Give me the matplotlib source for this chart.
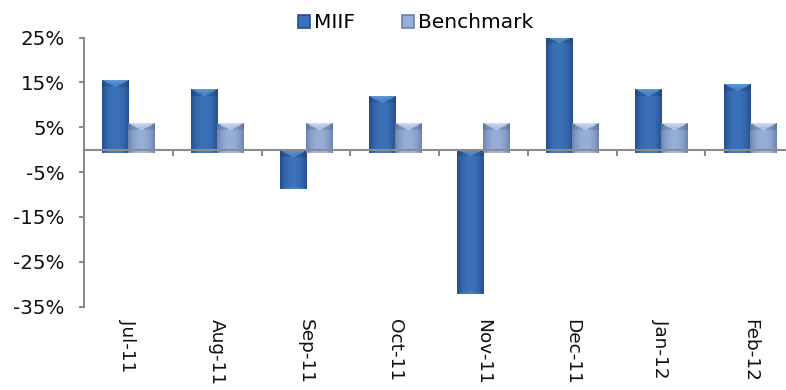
import numpy as np
import matplotlib
matplotlib.use('Agg')
import matplotlib.pyplot as plt
import matplotlib.colors as mcolors
from matplotlib.patches import Rectangle

# Dados mensais (%)
meses = ['Jul-11', 'Aug-11', 'Sep-11', 'Oct-11', 'Nov-11', 'Dec-11', 'Jan-12', 'Feb-12']
miif = [15.5, 13.5, -8.7, 12.0, -32.3, 25.2, 13.5, 14.7]
benchmark = [5.9, 5.9, 5.9, 5.9, 5.9, 5.9, 5.9, 5.9]

plt.rcParams['font.family'] = ['DejaVu Sans']

W, H = 786, 390
fig = plt.figure(figsize=(W / 100, H / 100), dpi=100)
ax = fig.add_axes([84 / W, 83.5 / H, 710.2 / W, 268.8 / H])
ax.set_xlim(-0.5, 7.5)
ax.set_ylim(-35, 25)

px_x = 710.2 / 8      # pixels por categoria
px_y = 268.8 / 60     # pixels por ponto percentual
largura = 0.293
prof = 0.7            # "profundidade" 3D abaixo da linha do zero


def cor(h):
    return np.array(mcolors.to_rgb(h))


def sombreado(h, w, centro, borda, claro):
    # gradiente horizontal (bordas escuras) + chanfro claro no topo
    u = (np.arange(w) + 0.5) / w
    s = np.abs(2 * u - 1)
    t = s ** 2.2
    linha = centro[None, :] * (1 - t)[:, None] + borda[None, :] * t[:, None]
    img = np.repeat(linha[None, :, :], h, axis=0)
    y = np.arange(h)[:, None] + 0.5
    b = 7.5
    tri = y < b * (1 - s)[None, :]
    lado = (y < b) & ~tri
    img[lado] = img[lado] * 0.88
    mix = np.clip(1 - y / b, 0.45, 1.0) * np.ones_like(tri, dtype=float)
    img[tri] = img[tri] * (1 - mix[tri, None] * 0.75) + claro * (mix[tri, None] * 0.75)
    fundo = (h - y) < 0.5 * b * (1 - s)[None, :]
    img[fundo] = img[fundo] * 0.8 + claro * 0.2
    return np.clip(img, 0, 1)


x = np.arange(len(meses))
series = [
    (miif, x - largura / 2, 'MIIF', '#3b71b8', '#244d8a', '#6ea8ec'),
    (benchmark, x + largura / 2, 'Benchmark', '#97afd8', '#6a82ad', '#e4eeff'),
]

handles = []
for vals, pos, nome, c_centro, c_borda, c_claro in series:
    vals = np.array(vals)
    base = np.where(vals > 0, -prof, 0.0)
    alt = vals - base
    ax.bar(pos, alt, largura, bottom=base, color=c_centro,
           edgecolor='none', label=nome, zorder=1)
    handles.append(Rectangle((0, 0), 1, 1, facecolor=c_centro,
                             edgecolor=c_borda, linewidth=1.2, label=nome))
    for p, b0, v in zip(pos, base, vals):
        y0, y1 = min(b0, v), max(b0, v)
        hp = max(int(round((y1 - y0) * px_y)), 2)
        wp = max(int(round(largura * px_x)), 2)
        img = sombreado(hp, wp, cor(c_centro), cor(c_borda), cor(c_claro))
        ax.imshow(img, extent=(p - largura / 2, p + largura / 2, y0, y1),
                  aspect='auto', interpolation='bilinear', zorder=1.5)

ax.set_xlim(-0.5, 7.5)
ax.set_ylim(-35, 25)

# Eixos
cinza = '#8c8c8c'
for lado in ['top', 'right']:
    ax.spines[lado].set_visible(False)
ax.spines['left'].set_color(cinza)
ax.spines['left'].set_linewidth(1.5)
ax.spines['bottom'].set_position(('data', 0))
ax.spines['bottom'].set_color(cinza)
ax.spines['bottom'].set_linewidth(1.5)
ax.spines['bottom'].set_zorder(3)

ax.set_yticks(np.arange(-35, 26, 10))
ax.set_yticklabels([f'{v}%' for v in range(-35, 26, 10)])
ax.tick_params(axis='y', length=3.8, width=1.5, color=cinza, pad=10,
               labelsize=14.3, labelcolor='#111111')
ax.set_xticks(np.arange(0.5, 7.5, 1))
ax.set_xticklabels([])
ax.tick_params(axis='x', length=4, width=1.5, color=cinza, direction='out')

for i, m in enumerate(meses):
    ax.annotate(m, xy=(i, 0), xycoords=ax.get_xaxis_transform(),
                xytext=(0, -9.2), textcoords='offset points',
                rotation=270, ha='center', va='top', fontsize=13.3,
                color='#111111', annotation_clip=False)

fig.legend(handles, [h.get_label() for h in handles], loc='center',
           bbox_to_anchor=(415.5 / W, 1 - 23 / H), ncol=2, frameon=False,
           fontsize=14.5, handlelength=0.6, handleheight=0.6,
           handletextpad=0.2, columnspacing=2.3, borderpad=0, borderaxespad=0)

fig.savefig('out.png', dpi=100)
